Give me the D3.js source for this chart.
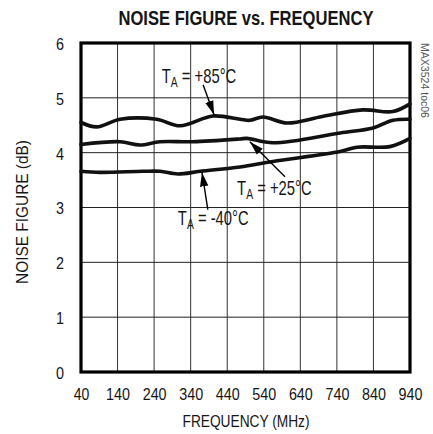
<!DOCTYPE html>
<html>
<head>
<meta charset="utf-8">
<script src="https://cdn.jsdelivr.net/npm/d3@7"></script>
<style>
  body { margin: 0; background: #fff; }
  svg text { font-family: "Liberation Sans", Arial, sans-serif; fill: #151515; }
</style>
</head>
<body>
<svg id="chart" width="433" height="434"></svg>
<script>
// Data
const xTicks = [40, 140, 240, 340, 440, 540, 640, 740, 840, 940];
const yTicks = [0, 1, 2, 3, 4, 5, 6];

const freq85 = [40, 83, 147, 247, 311, 401, 475, 502, 538, 604, 700, 811, 893, 940];
const nf85   = [4.55, 4.47, 4.61, 4.61, 4.49, 4.67, 4.61, 4.59, 4.65, 4.54, 4.66, 4.78, 4.75, 4.89];

const freq25 = [40, 147, 201, 256, 346, 475, 494, 565, 749, 839, 893, 940];
const nf25   = [4.15, 4.20, 4.14, 4.20, 4.20, 4.25, 4.26, 4.18, 4.36, 4.45, 4.59, 4.61];

const freqM40 = [40, 92, 210, 256, 305, 366, 475, 565, 749, 795, 885, 940];
const nfM40   = [3.66, 3.64, 3.66, 3.66, 3.61, 3.66, 3.74, 3.84, 4.02, 4.10, 4.11, 4.26];

const series = [
  { label: "+85°C", f: freq85, v: nf85 },
  { label: "+25°C", f: freq25, v: nf25 },
  { label: "-40°C", f: freqM40, v: nfM40 }
];

const svg = d3.select("#chart");
const mLeft = 81, mRight = 410, mTop = 43, mBottom = 372;

const x = d3.scaleLinear().domain([40, 940]).range([mLeft, mRight]);
const y = d3.scaleLinear().domain([0, 6]).range([mBottom, mTop]);

// narrow text: squeeze glyphs to the measured width
function narrowText(sel, len) {
  return sel.attr("textLength", len).attr("lengthAdjust", "spacingAndGlyphs");
}

// Title (scaled horizontally to look condensed)
const titleG = svg.append("g");
const title = titleG.append("text")
  .attr("text-anchor", "middle")
  .attr("font-weight", "bold")
  .attr("font-size", 20)
  .text("NOISE FIGURE vs. FREQUENCY");
const titleW = title.node().getComputedTextLength();
titleG.attr("transform", `translate(246,25) scale(${255 / titleW},1)`);

// Grid
svg.append("g")
  .selectAll("line")
  .data(xTicks)
  .join("line")
  .attr("x1", d => x(d)).attr("x2", d => x(d))
  .attr("y1", mTop).attr("y2", mBottom)
  .attr("stroke", "#333").attr("stroke-width", 1);

svg.append("g")
  .selectAll("line")
  .data(yTicks)
  .join("line")
  .attr("x1", mLeft).attr("x2", mRight)
  .attr("y1", d => y(d)).attr("y2", d => y(d))
  .attr("stroke", "#222").attr("stroke-width", 1);

// Axes (labels only)
const xAxis = d3.axisBottom(x).tickValues(xTicks).tickSize(0).tickPadding(16)
  .tickFormat(d3.format("d"));
svg.append("g")
  .attr("transform", `translate(0,${mBottom})`)
  .call(xAxis)
  .call(g => g.select(".domain").remove())
  .call(g => g.attr("font-family", null).attr("font-size", null))
  .selectAll("text")
  .attr("font-size", 17)
  .each(function(d) { narrowText(d3.select(this), String(d).length * 8.3 - 1); });

const yAxis = d3.axisLeft(y).tickValues(yTicks).tickSize(0).tickPadding(17)
  .tickFormat(d3.format("d"));
svg.append("g")
  .attr("transform", `translate(${mLeft},1)`)
  .call(yAxis)
  .call(g => g.select(".domain").remove())
  .call(g => g.attr("font-family", null).attr("font-size", null))
  .selectAll("text")
  .attr("font-size", 17)
  .call(narrowText, 8);

// Frame
svg.append("rect")
  .attr("x", mLeft).attr("y", mTop)
  .attr("width", mRight - mLeft).attr("height", mBottom - mTop)
  .attr("fill", "none").attr("stroke", "#000").attr("stroke-width", 3.2);

// Curves
const line = d3.line()
  .x(d => x(d[0])).y(d => y(d[1]))
  .curve(d3.curveCatmullRom.alpha(0.5));

svg.append("g")
  .selectAll("path")
  .data(series)
  .join("path")
  .attr("d", s => line(s.f.map((f, i) => [f, s.v[i]])))
  .attr("fill", "none")
  .attr("stroke", "#111")
  .attr("stroke-width", 3.6)
  .attr("stroke-linecap", "round");

// Annotations
svg.append("defs").append("marker")
  .attr("id", "arrow")
  .attr("viewBox", "0 0 10 10")
  .attr("refX", 10).attr("refY", 5)
  .attr("markerWidth", 14).attr("markerHeight", 14)
  .attr("markerUnits", "userSpaceOnUse")
  .attr("orient", "auto")
  .append("path").attr("d", "M0,2 L10,5 L0,8 Z").attr("fill", "#000");

const notes = [
  { label: "+85°C", tx: 261, ty: 5.27, ax1: 374, ay1: 5.24, ax2: 404, ay2: 4.69 },
  { label: "+25°C", tx: 467, ty: 3.23, ax1: 598, ay1: 3.56, ax2: 502, ay2: 4.2 },
  { label: "-40°C", tx: 305, ty: 2.68, ax1: 387, ay1: 2.96, ax2: 371, ay2: 3.64 }
];

notes.forEach(n => {
  svg.append("line")
    .attr("x1", x(n.ax1)).attr("y1", y(n.ay1))
    .attr("x2", x(n.ax2)).attr("y2", y(n.ay2))
    .attr("stroke", "#000").attr("stroke-width", 1.4)
    .attr("marker-end", "url(#arrow)");
  const g = svg.append("g")
    .attr("transform", `translate(${x(n.tx)},${y(n.ty)}) scale(0.74,1)`);
  const t = g.append("text").attr("font-size", 20);
  t.append("tspan").text("T");
  t.append("tspan").attr("font-size", 14).attr("dy", 4).text("A");
  t.append("tspan").attr("dy", -4).text(" = " + n.label);
});

// Axis titles
svg.append("text")
  .attr("x", 246).attr("y", 427)
  .attr("text-anchor", "middle")
  .attr("font-size", 16)
  .text("FREQUENCY (MHz)")
  .call(narrowText, 127);

svg.append("text")
  .attr("transform", `translate(28,212) rotate(-90)`)
  .attr("text-anchor", "middle")
  .attr("font-size", 17)
  .text("NOISE FIGURE (dB)")
  .call(narrowText, 144);

// Side code
svg.append("text")
  .attr("transform", `translate(421,43) rotate(90)`)
  .attr("text-anchor", "start")
  .attr("font-size", 10)
  .style("fill", "#555")
  .text("MAX3524 toc06")
  .call(narrowText, 75);
</script>
</body>
</html>
